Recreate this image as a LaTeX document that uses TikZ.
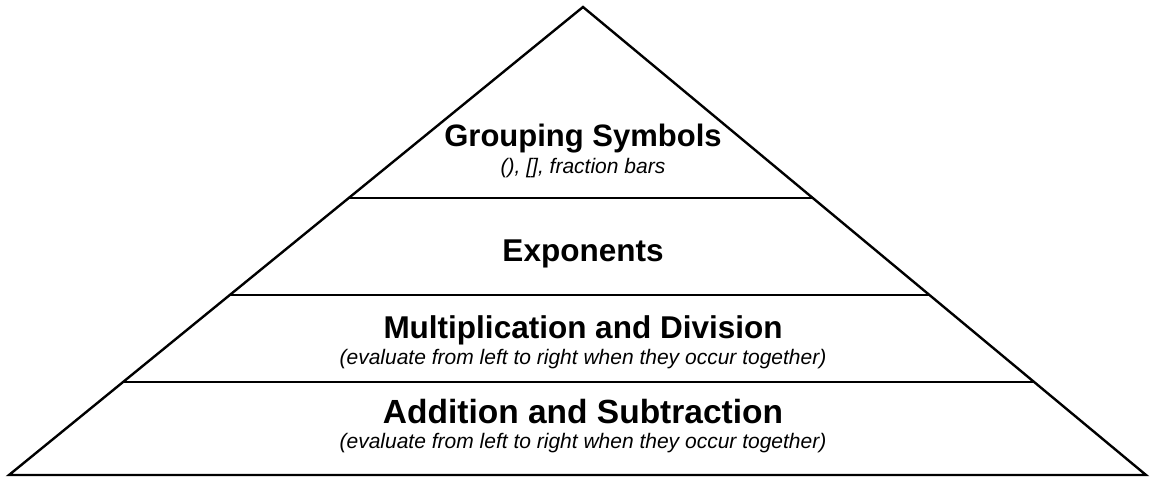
\documentclass[tikz,border=0pt]{standalone}
\usepackage{fontspec}
\setmainfont{Liberation Sans}
\usetikzlibrary{calc}
\begin{document}
\begin{tikzpicture}[x=1pt,y=-1pt,
  edge/.style={line width=2.4pt, line join=miter},
  title/.style={font=\fontsize{31.5}{31.5}\selectfont\bfseries, anchor=base, inner sep=0pt},
  bigtitle/.style={font=\fontsize{33.5}{33.5}\selectfont\bfseries, anchor=base, inner sep=0pt},
  sub/.style={font=\fontsize{21}{21}\selectfont\itshape, anchor=base, inner sep=0pt}]
\useasboundingbox (0,0) rectangle (1155,477);
\coordinate (A) at (583,7);
\coordinate (L) at (9,475);
\coordinate (R) at (1146,475);
\coordinate (l1) at ($(A)!0.4081!(L)$);
\coordinate (r1) at ($(A)!0.4081!(R)$);
\coordinate (l2) at ($(A)!0.6154!(L)$);
\coordinate (r2) at ($(A)!0.6154!(R)$);
\coordinate (l3) at ($(A)!0.8013!(L)$);
\coordinate (r3) at ($(A)!0.8013!(R)$);
\draw[edge] (L) -- (A) -- (R) -- cycle;
\draw[edge] (l1) -- (r1);
\draw[edge] (l2) -- (r2);
\draw[edge] (l3) -- (r3);
\node[title, font=\fontsize{31}{31}\selectfont\bfseries] (g) at (583,146) {Grouping Symbols};
\node[sub] (gs) at (583,173.5) {(), [], fraction bars};
\node[title] (e) at (583,261) {Exponents};
\node[title] (m) at (583,338) {Multiplication and Division};
\node[sub] (ms) at (583,364) {(evaluate from left to right when they occur together)};
\node[bigtitle] (a) at (583,423) {Addition and Subtraction};
\node[sub] (as) at (583,448.5) {(evaluate from left to right when they occur together)};
\end{tikzpicture}
\end{document}
